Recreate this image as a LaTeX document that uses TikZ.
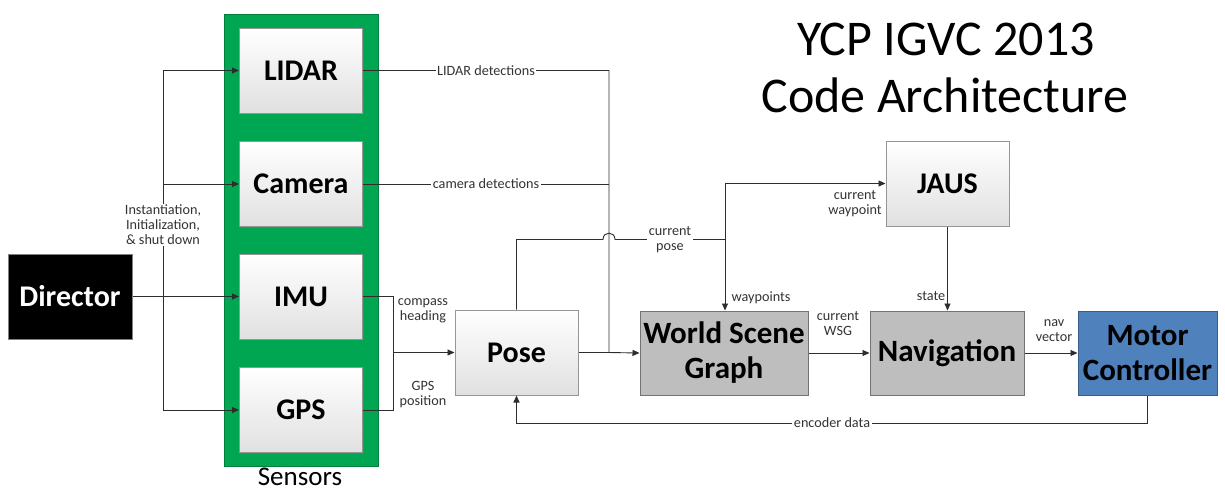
\documentclass[tikz,border=0pt]{standalone}
\usepackage{fontspec}
\setmainfont{Carlito}
\usetikzlibrary{arrows.meta,shadows}
\definecolor{sgreen}{RGB}{0,166,81}
\definecolor{sgreenb}{RGB}{0,128,60}
\definecolor{lineg}{RGB}{45,45,45}
\definecolor{boxb}{RGB}{150,150,150}
\definecolor{wsgray}{RGB}{190,190,190}
\definecolor{mblue}{RGB}{79,129,189}
\definecolor{mblueb}{RGB}{56,93,138}
\tikzset{
  lbox/.style={draw=boxb, line width=1pt, top color=white, bottom color=black!12,
    minimum width=123pt, minimum height=85pt, font=\fontsize{30}{32}\selectfont\bfseries,
    drop shadow={opacity=0.25, shadow xshift=1.2pt, shadow yshift=-1.2pt}},
  gbox/.style={draw=black!55, line width=1pt, fill=wsgray, minimum height=84pt,
    font=\fontsize{31}{35}\selectfont\bfseries, align=center, inner sep=2pt,
    drop shadow={opacity=0.25, shadow xshift=1.2pt, shadow yshift=-1.2pt}},
  conn/.style={draw=lineg, line width=0.9pt},
  arr/.style={conn, -{Triangle[length=7pt,width=6pt]}},
  lab/.style={font=\fontsize{14.2}{15}\selectfont, text=black!80, align=center, inner sep=1.5pt},
  labw/.style={lab, fill=white}
}
\begin{document}
\begin{tikzpicture}[x=1pt,y=-1pt]
\useasboundingbox (0,0) rectangle (1225,491);
% title
\node[anchor=base, font=\fontsize{50}{57}\selectfont] (title1) at (946,55) {YCP IGVC 2013};
\node[anchor=base, font=\fontsize{50}{57}\selectfont] (title2) at (945,112) {Code Architecture};
% sensors frame
\node[draw=sgreenb, line width=1pt, fill=sgreen, minimum width=154pt, minimum height=452pt] (sensors) at (301,240) {};
\node[font=\fontsize{27}{29}\selectfont, inner sep=0pt, anchor=base] (sensorslab) at (300,485.5) {Sensors};
% boxes
\node[lbox] (lidar) at (301,70.5) {LIDAR};
\node[lbox] (camera) at (301,184) {Camera};
\node[lbox] (imu) at (301,296.5) {IMU};
\node[lbox] (gps) at (301,410) {GPS};
\node[draw=black!50, line width=1pt, fill=black, text=white, minimum width=124pt, minimum height=85pt,
  font=\fontsize{30}{32}\selectfont\bfseries] (dir) at (70,296.5) {Director};
\node[lbox] (pose) at (516.5,352.5) {Pose};
\node[lbox] (jaus) at (947.5,183.5) {JAUS};
\node[gbox, minimum width=168pt] (wsg) at (724,353) {World Scene\\Graph};
\node[gbox, minimum width=154pt] (nav) at (947,353) {Navigation};
\node[gbox, draw=mblueb, fill=mblue, minimum width=139pt] (motor) at (1147.5,353) {Motor\\Controller};
% director fan-out
\coordinate (vtop) at (163,70.5);
\coordinate (vbot) at (163,410);
\draw[conn] (vtop) -- (vbot);
\draw[arr] (dir.east) -- (imu.west);
\draw[arr] (vtop) -- (lidar.west);
\draw[arr] (vtop |- camera.west) -- (camera.west);
\draw[arr] (vbot) -- (gps.west);
\node[labw, inner sep=1pt] (instlab) at (163,225) {Instantiation,\\Initialization,\\\& shut down};
% detections to WSG
\coordinate (m1) at (609,70.5);
\coordinate (m2) at (609,352.5);
\draw[arr] (lidar.east) -- node[labw] (lidarlab) {LIDAR detections} (m1) -- (m2) -- (wsg.west);
\draw[conn] (camera.east) -- node[labw] (camlab) {camera detections} (camera.east -| m1);
\draw[conn] (pose.east) -- (m2);
% IMU/GPS to pose
\coordinate (b1) at (393,296.5);
\coordinate (b2) at (393,410);
\draw[conn] (imu.east) -- (b1) -- (b2) -- (gps.east);
\draw[arr] (b1 |- pose.west) -- (pose.west);
\node[lab] (complab) at (423,311) {compass\\heading};
\node[lab] (gpslab) at (423,395) {GPS\\position};
% current pose
\coordinate (p1) at (516.5,239.5);
\coordinate (c0) at (725,239.5);
\coordinate (c1) at (725,183.5);
\draw[conn] (pose.north) -- (p1) -- (603,239.5) .. controls (603,231) and (615,231) .. (615,239.5) -- (c0);
\node[labw] (poselab) at (670,240) {current\\pose};
\draw[arr] (c1) -- (jaus.west);
\draw[arr] (c1) -- (c1 |- wsg.north);
\node[lab] (cwlab) at (855,204) {current\\waypoint};
\node[lab] (wplab) at (761,298) {waypoints};
% JAUS to navigation
\draw[arr] (jaus.south) -- (jaus.south |- nav.north);
\node[lab] (statelab) at (931,296) {state};
% WSG -> Nav -> Motor
\draw[arr] (wsg.east) -- (nav.west);
\node[lab] (cwsglab) at (838,324) {current\\WSG};
\draw[arr] (nav.east) -- (motor.west);
\node[lab] (navlab) at (1054,331) {nav\\vector};
% encoder feedback
\coordinate (e1) at (1147.5,423);
\coordinate (e2) at (516.5,423);
\draw[arr] (motor.south) -- (e1) -- node[labw] (enclab) {encoder data} (e2) -- (pose.south);
\end{tikzpicture}
\end{document}
